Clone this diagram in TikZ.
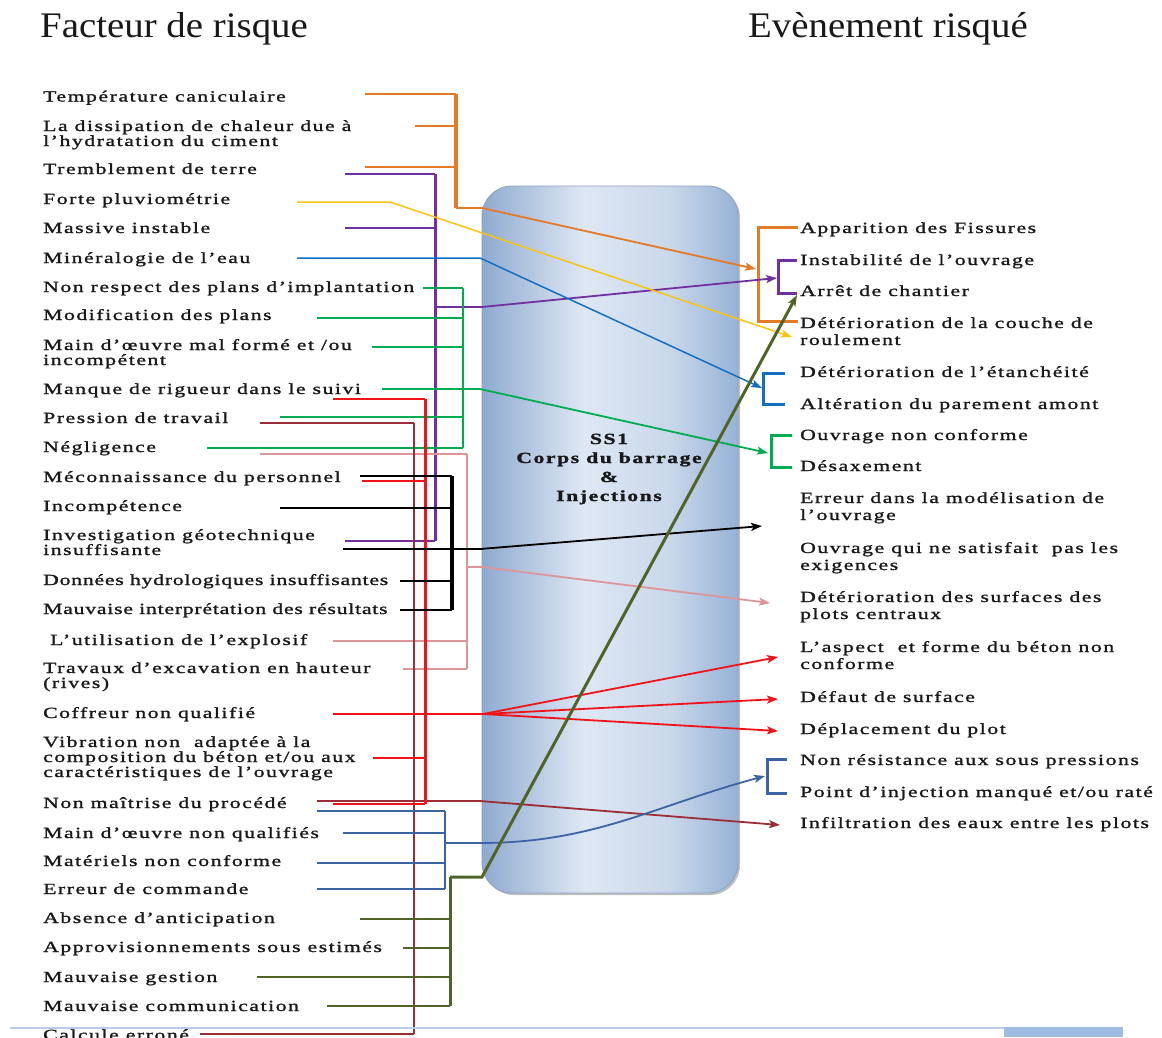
\documentclass[tikz,border=0pt]{standalone}
\usepackage{fontspec}
\setmainfont{Liberation Serif}
\newfontfamily\lftfont[FakeStretch=1.4,LetterSpace=10,FakeBold=1.4]{Liberation Serif}
\newfontfamily\lftnarrow[FakeStretch=1.4,LetterSpace=5,FakeBold=1.4]{Liberation Serif}
\newfontfamily\ttlfont[FakeStretch=1.08]{Liberation Serif}
\usetikzlibrary{arrows.meta}

\definecolor{cOr}{RGB}{228,122,38}
\definecolor{cPu}{RGB}{112,48,160}
\definecolor{cYe}{RGB}{250,195,20}
\definecolor{cBl}{RGB}{20,110,195}
\definecolor{cGr}{RGB}{0,172,80}
\definecolor{cRe}{RGB}{240,20,25}
\definecolor{cBr}{RGB}{155,45,55}
\definecolor{cPk}{RGB}{220,150,152}
\definecolor{cSl}{RGB}{60,100,165}
\definecolor{cOl}{RGB}{80,100,40}
\definecolor{cTx}{RGB}{25,25,25}
\definecolor{bxA}{RGB}{143,170,208}
\definecolor{bxB}{RGB}{222,232,244}
\definecolor{bxC}{RGB}{200,215,234}
\definecolor{bxD}{RGB}{150,178,214}
\definecolor{bxEdge}{RGB}{140,160,190}
\definecolor{ruleC}{RGB}{185,205,228}
\definecolor{tabC}{RGB}{160,188,224}

\pgfdeclarehorizontalshading{boxshade}{100bp}{color(0bp)=(bxA); color(25bp)=(bxA); color(45bp)=(bxB); color(62bp)=(bxC); color(75bp)=(bxD); color(100bp)=(bxD)}

\tikzset{
  lt/.style={anchor=base west, inner sep=0pt, align=left, text=cTx,
    font=\fontsize{15.5}{15}\lftfont},
  ltn/.style={lt, font=\fontsize{15.5}{15}\lftnarrow},
  rt/.style={anchor=base west, inner sep=0pt, align=left, text=cTx,
    font=\fontsize{15.5}{17}\lftfont},
  ttl/.style={anchor=base west, inner sep=0pt, text=cTx,
    font=\fontsize{36}{40}\ttlfont},
  coretxt/.style={anchor=base, inner sep=0pt, align=center, text=cTx,
    font=\fontsize{15.5}{19}\lftfont\bfseries},
  stub/.style={line width=1.8pt},
  bar/.style={line width=3.5pt},
  link/.style={line width=1.8pt, -{Stealth[length=11pt,width=8pt,inset=2.5pt]}},
  brk/.style={line width=3pt},
}

\begin{document}
\begin{tikzpicture}[x=1pt,y=-1pt]
\clip (0,0) rectangle (1162,1037);
\fill[white] (0,0) rectangle (1162,1037);

% headings
\node[ttl] (tL) at (40,37) {Facteur de risque};
\node[ttl] (tR) at (748,37) {Evènement risqué};

% central block
\coordinate (bxNW) at (482,186);
\coordinate (bxSE) at (738,893);
\fill[black!25, rounded corners=30pt] ([shift={(2,2)}]bxNW) rectangle ([shift={(2,2)}]bxSE);
\path[shading=boxshade, rounded corners=30pt] (bxNW) rectangle (bxSE);
\draw[bxEdge, line width=0.8pt, rounded corners=30pt] (bxNW) rectangle (bxSE);
% multi-line nodes are placed by the baseline of their last line
\node[coretxt] (core) at (609,501) {SS1\\Corps du barrage\\\&\\Injections};

% risk factors
\node[lt] (l1) at (43,101.5) {Température caniculaire};
\node[lt] (l2) at (43,146) {La dissipation de chaleur due à\\l’hydratation du ciment};
\node[lt] (l3) at (43,174) {Tremblement de terre};
\node[lt] (l4) at (43,204) {Forte pluviométrie};
\node[lt] (l5) at (43,233) {Massive instable};
\node[lt] (l6) at (43,263) {Minéralogie de l’eau};
\node[lt] (l7) at (43,292) {Non respect des plans d’implantation};
\node[lt] (l8) at (43,320) {Modification des plans};
\node[lt] (l9) at (43,365) {Main d’œuvre mal formé et /ou\\incompétent};
\node[lt] (l10) at (43,394) {Manque de rigueur dans le suivi};
\node[lt] (l11) at (43,423) {Pression de travail};
\node[lt] (l12) at (43,452) {Négligence};
\node[lt] (l13) at (43,482) {Méconnaissance du personnel};
\node[lt] (l14) at (43,511) {Incompétence};
\node[lt] (l15) at (43,555) {Investigation géotechnique\\insuffisante};
\node[ltn] (l16) at (43,585) {Données hydrologiques insuffisantes};
\node[ltn] (l17) at (43,614) {Mauvaise interprétation des résultats};
\node[lt] (l18) at (50,645) {L’utilisation de l’explosif};
\node[lt] (l19) at (43,688) {Travaux d’excavation en hauteur\\(rives)};
\node[lt] (l20) at (43,718) {Coffreur non qualifié};
\node[lt] (l21) at (43,777) {Vibration non\ \ adaptée à la\\composition du béton et/ou aux\\caractéristiques de l’ouvrage};
\node[lt] (l22) at (43,808) {Non maîtrise du procédé};
\node[lt] (l23) at (43,838) {Main d’œuvre non qualifiés};
\node[lt] (l24) at (43,866) {Matériels non conforme};
\node[lt] (l25) at (43,894) {Erreur de commande};
\node[lt] (l26) at (43,923) {Absence d’anticipation};
\node[lt] (l27) at (43,952) {Approvisionnements sous estimés};
\node[lt] (l28) at (43,982) {Mauvaise gestion};
\node[lt] (l29) at (43,1011) {Mauvaise communication};
\node[lt] (l30) at (43,1040) {Calcule erroné};

% risk events
\node[rt] (r1) at (800,233) {Apparition des Fissures};
\node[rt] (r2) at (800,265) {Instabilité de l’ouvrage};
\node[rt] (r3) at (800,296) {Arrêt de chantier};
\node[rt] (r4) at (800,345) {Détérioration de la couche de\\roulement};
\node[rt] (r5) at (800,377) {Détérioration de l’étanchéité};
\node[rt] (r6) at (800,409) {Altération du parement amont};
\node[rt] (r7) at (800,440) {Ouvrage non conforme};
\node[rt] (r8) at (800,471) {Désaxement};
\node[rt] (r9) at (800,520) {Erreur dans la modélisation de\\l’ouvrage};
\node[rt] (r10) at (800,570) {Ouvrage qui ne satisfait\ \ pas les\\exigences};
\node[rt] (r11) at (800,619) {Détérioration des surfaces des\\plots centraux};
\node[rt] (r12) at (800,669) {L’aspect\ \ et forme du béton non\\conforme};
\node[rt] (r13) at (800,702) {Défaut de surface};
\node[rt] (r14) at (800,734) {Déplacement du plot};
\node[rt] (r15) at (800,765) {Non résistance aux sous pressions};
\node[rt] (r16) at (800,797) {Point d’injection manqué et/ou raté};
\node[rt] (r17) at (800,828) {Infiltration des eaux entre les plots};

% ---- orange group: heat / earthquake -> cracks ... wearing course
\coordinate (oT) at (456,94);  \coordinate (oB) at (456,208);
\coordinate (o1) at (365,94);  \coordinate (o2) at (415,126); \coordinate (o3) at (365,167);
\coordinate (oK) at (482,208); \coordinate (oA) at (756,269);
\coordinate (oR1) at (798,227); \coordinate (oRT) at (758,227);
\coordinate (oRB) at (758,321); \coordinate (oR2) at (798,321);
\foreach \s in {o1,o2,o3} \draw[stub,cOr] (\s) -- (\s -| oT);
\draw[bar,cOr] (oT) -- (oB);
\draw[link,cOr] (oB) -- (oK) -- (oA);
\draw[brk,cOr] (oR1) -- (oRT) -- (oRB) -- (oR2);

% ---- purple group
\coordinate (pT) at (435,174); \coordinate (pB) at (435,541);
\coordinate (p1) at (345,174); \coordinate (p2) at (345,228); \coordinate (p3) at (345,541);
\coordinate (pO) at (435,307); \coordinate (pK) at (482,307); \coordinate (pA) at (777,278);
\coordinate (pR1) at (797,260); \coordinate (pRT) at (778,260);
\coordinate (pRB) at (778,293); \coordinate (pR2) at (797,293);
\foreach \s in {p1,p2,p3} \draw[stub,cPu] (\s) -- (\s -| pT);
\draw[bar,cPu,line width=3pt] (pT) -- (pB);
\draw[link,cPu] (pO) -- (pK) -- (pA);
\draw[brk,cPu] (pR1) -- (pRT) -- (pRB) -- (pR2);

% ---- yellow link
\coordinate (y1) at (297,202); \coordinate (yK) at (390,202); \coordinate (yA) at (792,337);
\draw[link,cYe,line width=1.5pt] (y1) -- (yK) -- (yA);

% ---- blue link
\coordinate (b1) at (297,258); \coordinate (bK) at (480,258); \coordinate (bA) at (762,388);
\coordinate (bR1) at (785,373); \coordinate (bRT) at (763,373);
\coordinate (bRB) at (763,404); \coordinate (bR2) at (785,404);
\draw[link,cBl,line width=1.5pt] (b1) -- (bK) -- (bA);
\draw[brk,cBl] (bR1) -- (bRT) -- (bRB) -- (bR2);

% ---- green group
\coordinate (gT) at (463,288); \coordinate (gB) at (463,448);
\coordinate (g1) at (423,288); \coordinate (g2) at (317,318); \coordinate (g3) at (372,347);
\coordinate (g4) at (382,389); \coordinate (g5) at (280,417); \coordinate (g6) at (207,448);
\coordinate (gK) at (480,389); \coordinate (gA) at (768,453);
\coordinate (gR1) at (792,435); \coordinate (gRT) at (771,435);
\coordinate (gRB) at (771,467); \coordinate (gR2) at (792,467);
\foreach \s in {g1,g2,g3,g5,g6} \draw[stub,cGr] (\s) -- (\s -| gT);
\draw[bar,cGr,line width=2.8pt] (gT) -- (gB);
\draw[link,cGr] (g4) -- (gK) -- (gA);
\draw[brk,cGr] (gR1) -- (gRT) -- (gRB) -- (gR2);

% ---- pink group
\coordinate (kT) at (467,454); \coordinate (kB) at (467,669);
\coordinate (k1) at (260,454); \coordinate (k2) at (333,641); \coordinate (k3) at (403,669);
\coordinate (kO) at (467,567); \coordinate (kK) at (482,567); \coordinate (kA) at (770,603);
\foreach \s in {k1,k2,k3} \draw[stub,cPk] (\s) -- (\s -| kT);
\draw[bar,cPk,line width=2.8pt] (kT) -- (kB);
\draw[link,cPk] (kO) -- (kK) -- (kA);

% ---- brown group
\coordinate (nT) at (414,423); \coordinate (nB) at (414,1034);
\coordinate (n1) at (260,423); \coordinate (n2) at (200,1034);
\coordinate (n3) at (317,801); \coordinate (nK) at (480,801); \coordinate (nA) at (780,825);
\foreach \s in {n1,n2} \draw[stub,cBr] (\s) -- (\s -| nT);
\draw[bar,cBr,line width=2.8pt] (nT) -- (nB);
\draw[link,cBr] (n3) -- (nK) -- (nA);

% ---- red group
\coordinate (eT) at (425,399); \coordinate (eB) at (425,804);
\coordinate (e1) at (333,399); \coordinate (e2) at (362,481);
\coordinate (e3) at (373,758); \coordinate (e4) at (333,804);
\coordinate (e5) at (333,714); \coordinate (eK) at (483,714);
\coordinate (eA1) at (778,657); \coordinate (eA2) at (778,699); \coordinate (eA3) at (778,731);
\foreach \s in {e1,e2,e3,e4} \draw[stub,cRe] (\s) -- (\s -| eT);
\draw[bar,cRe,line width=3pt] (eT) -- (eB);
\draw[stub,cRe] (e5) -- (eK);
\foreach \a in {eA1,eA2,eA3} \draw[link,cRe] (eK) -- (\a);

% ---- black group
\coordinate (aT) at (452,476); \coordinate (aB) at (452,610);
\coordinate (a1) at (360,476); \coordinate (a2) at (280,508);
\coordinate (a4) at (400,581); \coordinate (a5) at (400,610);
\coordinate (a3) at (343,549); \coordinate (aK) at (480,549); \coordinate (aA) at (762,526);
\foreach \s in {a1,a2,a4,a5} \draw[stub,black] (\s) -- (\s -| aT);
\draw[bar,black,line width=4pt] (aT) -- (aB);
\draw[link,black] (a3) -- (aK) -- (aA);

% ---- slate blue group
\coordinate (sT) at (445,811); \coordinate (sB) at (445,889);
\coordinate (s1) at (317,811); \coordinate (s2) at (343,833);
\coordinate (s3) at (317,863); \coordinate (s4) at (317,889);
\coordinate (sO) at (445,843); \coordinate (sK) at (480,843); \coordinate (sA) at (765,776);
\coordinate (sR1) at (787,759); \coordinate (sRT) at (767,759);
\coordinate (sRB) at (767,793); \coordinate (sR2) at (787,793);
\foreach \s in {s1,s2,s3,s4} \draw[stub,cSl] (\s) -- (\s -| sT);
\draw[bar,cSl,line width=2.8pt] (sT) -- (sB);
\draw[link,cSl] (sO) -- (sK) to[out=0,in=195] (sA);
\draw[brk,cSl] (sR1) -- (sRT) -- (sRB) -- (sR2);

% ---- olive group
\coordinate (vT) at (450,877); \coordinate (vB) at (450,1006);
\coordinate (v1) at (360,919); \coordinate (v2) at (403,948);
\coordinate (v3) at (257,977); \coordinate (v4) at (327,1006);
\coordinate (vK) at (482,877); \coordinate (vA) at (797,295);
\foreach \s in {v1,v2,v3,v4} \draw[stub,cOl] (\s) -- (\s -| vT);
\draw[bar,cOl,line width=3pt] (vB) -- (vT);
\draw[link,cOl,line width=3pt] (vT) -- (vK) -- (vA);

% page rule at the foot
\coordinate (ru1) at (10,1027.5); \coordinate (ru2) at (1123,1027.5);
\draw[ruleC, line width=2pt] (ru1) -- (ru2);
\coordinate (tb1) at (1004,1027); \coordinate (tb2) at (1123,1037);
\fill[tabC] (tb1) rectangle (tb2);
\end{tikzpicture}
\end{document}
